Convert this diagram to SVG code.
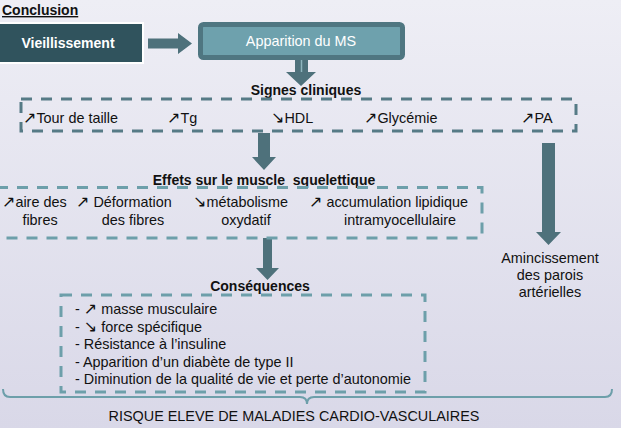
<svg xmlns="http://www.w3.org/2000/svg" width="621" height="428" viewBox="0 0 621 428">
<defs>
<linearGradient id="bg" x1="0" y1="0" x2="0" y2="1">
<stop offset="0" stop-color="#eeeef5"/>
<stop offset="1" stop-color="#d9d8e8"/>
</linearGradient>
<style>
text{font-family:"Liberation Sans",Arial,sans-serif;font-size:14.4px;fill:#111;}
.b{font-weight:bold;font-size:14px;}
.ar{font-family:"DejaVu Sans",sans-serif;font-size:16px;}
.dash1{fill:none;stroke:#567b86;stroke-width:3;stroke-dasharray:11 9;}
.dash2{fill:none;stroke:#6d9faa;stroke-width:3;stroke-dasharray:11 9;}
.arrow{fill:#4e717b;}
.mid{text-anchor:middle;}
</style>
</defs>
<rect x="0" y="0" width="621" height="428" fill="url(#bg)"/>

<g id="title">
<text x="2" y="15" class="b" text-decoration="underline">Conclusion</text>
</g>

<g id="vieillissement">
<rect x="-2" y="23" width="145" height="40" fill="#30535d" stroke="#ffffff" stroke-width="2"/>
<text x="68" y="48" class="b mid" style="fill:#ffffff">Vieillissement</text>
</g>

<g id="apparition">
<rect x="200.5" y="24.5" width="202" height="33" rx="3" fill="#6ea1ad" stroke="#4f7681" stroke-width="5"/>
<text x="301" y="46" class="mid" style="fill:#ffffff">Apparition du MS</text>
</g>

<g id="connectors">
<polygon class="arrow" points="148,38.5 178,38.5 178,33 192,43.5 178,54 178,48.5 148,48.5"/>
<polygon class="arrow" points="295,60 308,60 308,72 316,72 301,86 286,72 295,72"/>
<line x1="301.5" y1="60" x2="301.5" y2="72" stroke="#8fb5be" stroke-width="1.5"/>
<polygon class="arrow" points="258,133 270,133 270,157 276,157 264,170 252,157 258,157"/>
<polygon class="arrow" points="263,238 272,238 272,268 279,268 267.5,280 256,268 263,268"/>
<polygon class="arrow" points="542,143 555,143 555,232 561,232 548.5,245 536,232 542,232"/>
<path d="M3,389 Q3,397 10,397 L300,397 Q307,397 307,404 Q307,397 314,397 L605,397 Q612,397 612,389" fill="none" stroke="#6d9faa" stroke-width="2"/>
</g>

<g id="signes">
<text x="306" y="95" class="b mid">Signes cliniques</text>
<rect x="21" y="99" width="555" height="32" class="dash1"/>
<text x="23" y="123"><tspan class="ar">↗</tspan>Tour de taille</text>
<text x="167" y="123"><tspan class="ar">↗</tspan>Tg</text>
<text x="271" y="123"><tspan class="ar">↘</tspan>HDL</text>
<text x="364" y="123"><tspan class="ar">↗</tspan>Glycémie</text>
<text x="521" y="123"><tspan class="ar">↗</tspan>PA</text>
</g>

<g id="effets">
<text x="264" y="185" class="b mid" xml:space="preserve">Effets sur le muscle  squelettique</text>
<rect x="-3" y="187.5" width="485" height="50.5" class="dash2"/>
<text x="2" y="207"><tspan class="ar">↗</tspan>aire des</text>
<text x="40" y="225" class="mid">fibres</text>
<text x="76" y="207"><tspan class="ar">↗</tspan> Déformation</text>
<text x="133" y="225" class="mid">des fibres</text>
<text x="193" y="207"><tspan class="ar">↘</tspan>métabolisme</text>
<text x="246" y="225" class="mid">oxydatif</text>
<text x="309" y="207"><tspan class="ar">↗</tspan> accumulation lipidique</text>
<text x="400" y="225" class="mid">intramyocellulaire</text>
</g>

<g id="amincissement">
<text x="550" y="263" class="mid">Amincissement</text>
<text x="550" y="280" class="mid">des parois</text>
<text x="550" y="297" class="mid">artérielles</text>
</g>

<g id="consequences">
<text x="260" y="291" class="b mid">Conséquences</text>
<rect x="61" y="295" width="364" height="97" class="dash2"/>
<text x="75" y="314">- <tspan class="ar">↗</tspan> masse musculaire</text>
<text x="75" y="331.5">- <tspan class="ar">↘</tspan> force spécifique</text>
<text x="75" y="349">- Résistance à l’insuline</text>
<text x="75" y="366.5">- Apparition d’un diabète de type II</text>
<text x="75" y="384">- Diminution de la qualité de vie et perte d’autonomie</text>
</g>

<g id="risque">
<text x="294" y="421" class="mid">RISQUE ELEVE DE MALADIES CARDIO-VASCULAIRES</text>
</g>
</svg>
